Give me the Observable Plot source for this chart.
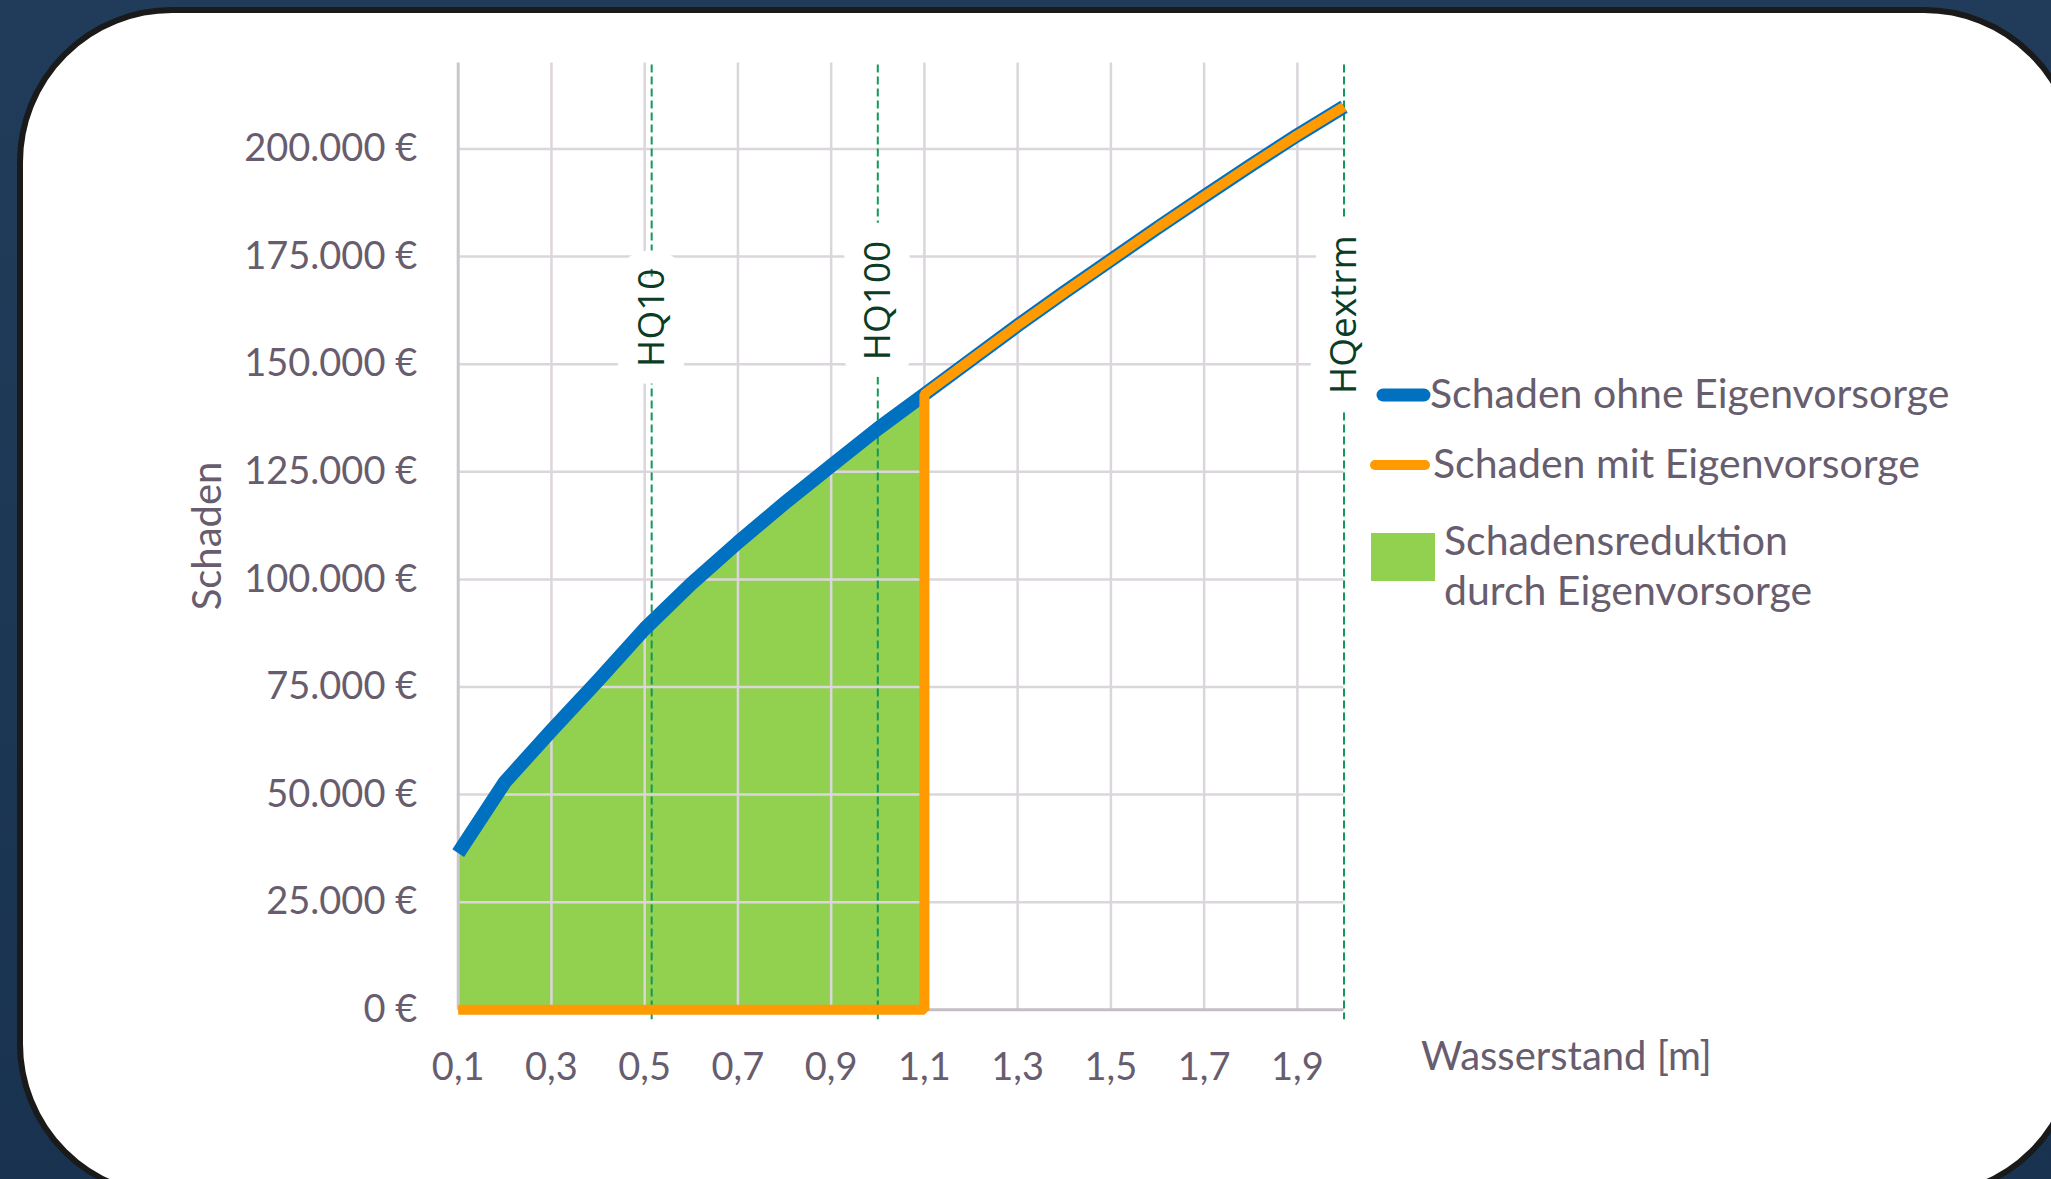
<!DOCTYPE html>
<html>
<head>
<meta charset="utf-8">
<script src="https://cdn.jsdelivr.net/npm/d3@7"></script>
<script src="https://cdn.jsdelivr.net/npm/@observablehq/plot@0.6"></script>
<style>
  html, body { margin:0; padding:0; width:2051px; height:1179px; overflow:hidden;
    background: linear-gradient(180deg, #203c5a 0%, #1c3754 60%, #183250 100%); }
  #card { position:absolute; left:17px; top:7px; width:2062px; height:1192px; background:#fff;
    border:6px solid #1a1a1a; border-radius:155px; box-sizing:border-box; }
  #chart { position:absolute; left:0; top:0; }
</style>
</head>
<body>
<div id="card"></div>
<div id="chart"></div>
<script>
// ---- data ----
const wasserstand = [0.1,0.2,0.3,0.4,0.5,0.6,0.7,0.8,0.9,1.0,1.1,1.2,1.3,1.4,1.5,1.6,1.7,1.8,1.9,2.0];
const schadenOhne = [36400,52900,64900,76500,88500,99000,108600,117700,126400,135000,143000,151000,159000,166700,174200,181700,189000,196200,203200,209800];
const mitX = [0.1,1.1,1.1,1.2,1.3,1.4,1.5,1.6,1.7,1.8,1.9,2.0];
const mitY = [0,0,143000,151000,159000,166700,174200,181700,189000,196200,203200,209800];
const hqNames = ["HQ10","HQ100","HQextrm"];
const hqX = [0.515,1.0,2.0];
const hqLabelY = [160800,164800,161500];
const xTicks = [0.1,0.3,0.5,0.7,0.9,1.1,1.3,1.5,1.7,1.9];
const yTicks = [0,25000,50000,75000,100000,125000,150000,175000,200000];
const legendLabels = ["Schaden ohne Eigenvorsorge","Schaden mit Eigenvorsorge","Schadensreduktion","durch Eigenvorsorge"];
const xTitle = "Wasserstand [m]";
const yTitle = "Schaden";

// ---- tables ----
const ohne = wasserstand.map((x,i)=>({x, y: schadenOhne[i]}));
const mit = mitX.map((x,i)=>({x, y: mitY[i]}));
const reduktion = ohne.filter(d => d.x <= 1.1 + 1e-9);
const hq = hqNames.map((name,i)=>({name, x: hqX[i], ly: hqLabelY[i]}));

const de = d3.formatLocale({decimal:",", thousands:".", grouping:[3], currency:["","\u00a0€"]});
const fmtY = d => de.format(",")(d) + " €";
const fmtX = d => d.toFixed(1).replace(".", ",");

const textColor = "#675d6e";
const gridColor = "#dbd6dc";

const plot = Plot.plot({
  width: 2051, height: 1179,
  marginLeft: 457.7, marginRight: 707.5, marginTop: 62.4, marginBottom: 169.7,
  style: {fontFamily: "Lato, sans-serif", fontSize: "38px", color: textColor, background: "transparent", overflow: "visible"},
  x: {domain: [0.1, 2.0], ticks: xTicks, tickFormat: fmtX, tickSize: 0, tickPadding: 43, label: null},
  y: {domain: [0, 220000], ticks: yTicks, tickFormat: fmtY, tickSize: 0, tickPadding: 41, label: null},
  marks: [
    Plot.areaY(reduktion, {x: "x", y1: 0, y2: "y", fill: "#92d050", curve: "linear"}),
    Plot.gridY(yTicks.slice(1), {stroke: gridColor, strokeOpacity: 1, strokeWidth: 2.5}),
    Plot.gridX(xTicks.slice(1), {stroke: gridColor, strokeOpacity: 1, strokeWidth: 2.5}),
    Plot.ruleX([0.1], {stroke: "#cbc6cc", strokeWidth: 3}),
    Plot.ruleY([0], {stroke: "#c3bec4", strokeWidth: 3}),
    Plot.ruleX(hq, {x: "x", stroke: "#139858", strokeWidth: 2, strokeDasharray: "8,4", insetTop: 2, insetBottom: -10}),
    Plot.text(hq, {x: "x", y: "ly", text: "name", rotate: -90, fill: "#0b3c25", stroke: "white", strokeWidth: 40,
      strokeLinejoin: "round", fontFamily: "'Open Sans', sans-serif", fontSize: 37, lineAnchor: "middle", textAnchor: "middle"}),
    Plot.line(ohne, {x: "x", y: "y", stroke: "#0070c0", strokeWidth: 14, strokeLinejoin: "round", strokeLinecap: "butt"}),
    Plot.line(mit, {x: "x", y: "y", stroke: "#ff9a00", strokeWidth: 10, strokeLinejoin: "miter", strokeLinecap: "butt"})
  ]
});
document.getElementById("chart").appendChild(plot);

// ---- axis titles and legend ----
const svg = d3.select(plot);
const g = svg.append("g").attr("font-family", "Lato, sans-serif").attr("fill", textColor).attr("text-anchor", "start");
g.append("text").attr("transform", "translate(221,536) rotate(-90)").attr("text-anchor", "middle")
  .attr("font-size", 40).text(yTitle);
g.append("text").attr("x", 1421).attr("y", 1070).attr("font-size", 40).text(xTitle);

const lg = g.append("g").attr("font-size", 41);
lg.append("line").attr("x1", 1383).attr("x2", 1424).attr("y1", 395).attr("y2", 395)
  .attr("stroke", "#0070c0").attr("stroke-width", 13).attr("stroke-linecap", "round");
lg.append("text").attr("x", 1430).attr("y", 408).text(legendLabels[0]);
lg.append("line").attr("x1", 1375).attr("x2", 1425).attr("y1", 465).attr("y2", 465)
  .attr("stroke", "#ff9a00").attr("stroke-width", 10).attr("stroke-linecap", "round");
lg.append("text").attr("x", 1433).attr("y", 478).text(legendLabels[1]);
lg.append("rect").attr("x", 1371).attr("y", 533).attr("width", 64).attr("height", 48).attr("fill", "#92d050");
lg.append("text").attr("x", 1444).attr("y", 555).text(legendLabels[2]);
lg.append("text").attr("x", 1444).attr("y", 605).text(legendLabels[3]);
</script>
</body>
</html>
